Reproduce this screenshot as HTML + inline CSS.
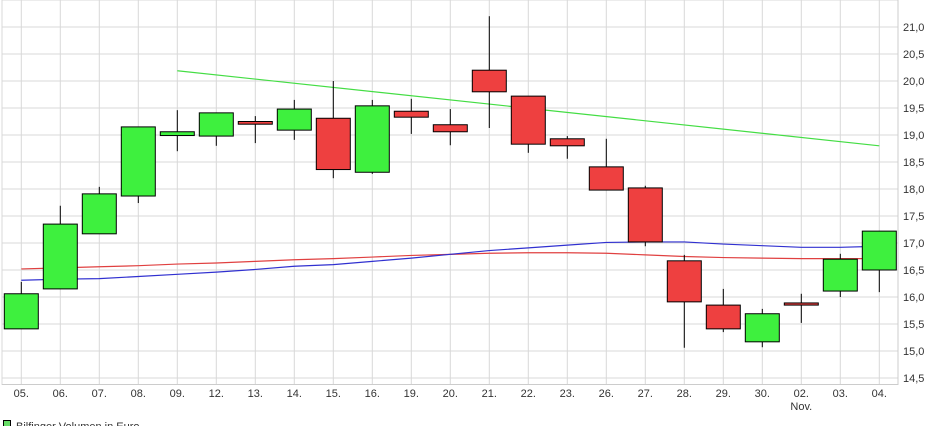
<!DOCTYPE html>
<html><head><meta charset="utf-8"><style>
body{margin:0;background:#fff;width:932px;height:426px;overflow:hidden;font-family:"Liberation Sans",sans-serif}
svg text{font-family:"Liberation Sans",sans-serif;font-size:11px;fill:#333}
</style></head><body>
<svg id="chart" width="932" height="426" xmlns="http://www.w3.org/2000/svg"></svg>
<script>
const dates=["05.","06.","07.","08.","09.","12.","13.","14.","15.","16.","19.","20.","21.","22.","23.","26.","27.","28.","29.","30.","02.","03.","04."];
const opens=[15.41,16.15,17.17,17.87,18.99,18.98,19.25,19.09,19.31,18.31,19.44,19.19,20.20,19.72,18.93,18.41,18.02,16.67,15.85,15.17,15.89,16.11,16.50];
const highs=[16.28,17.69,18.04,19.15,19.46,19.41,19.35,19.65,20.00,19.65,19.67,19.48,21.20,19.72,18.98,18.93,18.06,16.78,16.15,15.78,16.06,16.80,17.22];
const lows=[15.41,16.15,17.17,17.74,18.70,18.80,18.85,18.91,18.20,18.28,19.02,18.81,19.13,18.67,18.56,17.98,16.94,15.06,15.35,15.07,15.52,16.00,16.09];
const closes=[16.06,17.35,17.91,19.15,19.06,19.41,19.20,19.48,18.36,19.54,19.33,19.06,19.80,18.83,18.80,17.98,17.02,15.91,15.41,15.69,15.85,16.70,17.22];
const redMA=[16.52,16.54,16.56,16.58,16.61,16.63,16.66,16.69,16.71,16.74,16.77,16.79,16.81,16.82,16.82,16.81,16.78,16.75,16.73,16.72,16.71,16.71,16.71];
const blueMA=[16.31,16.33,16.34,16.38,16.42,16.46,16.51,16.57,16.60,16.66,16.72,16.79,16.86,16.91,16.96,17.01,17.02,17.02,16.98,16.95,16.92,16.92,16.94];
const trendStart=[4,20.19];
const trendEnd=[22,18.80];
const yTicks=[14.5,15.0,15.5,16.0,16.5,17.0,17.5,18.0,18.5,19.0,19.5,20.0,20.5,21.0];

const NS="http://www.w3.org/2000/svg";
const svg=document.getElementById('chart');
const X=i=>21.3+i*39;
const Y=v=>27+(21-v)*54;
function el(t,a,p){const e=document.createElementNS(NS,t);for(const k in a)e.setAttribute(k,a[k]);(p||svg).appendChild(e);return e;}

const grid=el('g',{});


for(let v=14.5;v<=21.51;v+=0.5){el('line',{x1:2,x2:898,y1:Y(v),y2:Y(v),stroke:'#d8d8d8','stroke-width':1},grid);}
dates.forEach((d,i)=>el('line',{x1:X(i),x2:X(i),y1:0,y2:385,stroke:'#d8d8d8','stroke-width':1},grid));
el('line',{x1:2,x2:2,y1:0,y2:385,stroke:'#d8d8d8'},grid);
el('line',{x1:898,x2:898,y1:0,y2:385,stroke:'#ccc'},grid);
el('line',{x1:2,x2:898,y1:384.5,y2:384.5,stroke:'#ccc'},grid);

function poly(arr,color,name){
 const p=el('polyline',{points:arr.map((v,i)=>X(i)+','+Y(v)).join(' '),fill:'none',stroke:color,'stroke-width':1.2});
 
 
}
poly(redMA,'#e04040','moving-average-red');
poly(blueMA,'#3030d0','moving-average-blue');
const tl=el('line',{x1:X(trendStart[0]),y1:Y(trendStart[1]),x2:X(trendEnd[0]),y2:Y(trendEnd[1]),stroke:'#44dd44','stroke-width':1.2});



dates.forEach((d,i)=>{
 const g=el('g',{});
 
 
 const up=closes[i]>=opens[i];
 el('line',{x1:X(i),x2:X(i),y1:Y(highs[i]),y2:Y(lows[i]),stroke:'#000','stroke-width':1},g);
 const top=Y(Math.max(opens[i],closes[i])),bot=Y(Math.min(opens[i],closes[i]));
 el('rect',{x:X(i)-17,y:top,width:34,height:Math.max(bot-top,2),fill:up?'#3ef03e':'#ee4040',stroke:'#000','stroke-width':1},g);
 const t=el('text',{x:X(i),y:397,'text-anchor':'middle'});
 t.textContent=d;
 
 
});
const nov=el('text',{x:X(20),y:410,'text-anchor':'middle'});nov.textContent='Nov.';


yTicks.forEach(v=>{
 const t=el('text',{x:903,y:Y(v)+4});
 t.textContent=v.toFixed(1).replace('.',',');
 
 
});
const lg=el('g',{});


el('rect',{x:3.5,y:420.5,width:7,height:7,fill:'#66dd66',stroke:'#000'},lg);
const lt=el('text',{x:16,y:430},lg);lt.textContent='Bilfinger Volumen in Euro';
</script>
</body></html>
